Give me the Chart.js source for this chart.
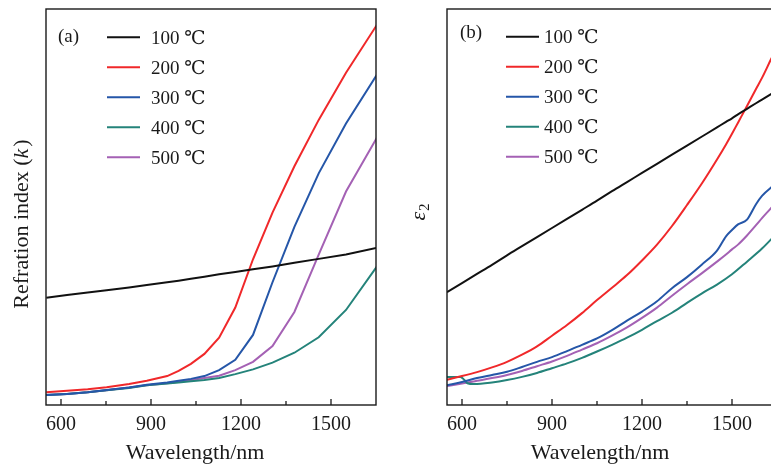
<!DOCTYPE html>
<html lang="en">
<head>
  <meta charset="UTF-8">
  <title>Refration index (k) and ε2 vs wavelength</title>
  <script src="https://cdn.jsdelivr.net/npm/chart.js@4.4.1/dist/chart.umd.min.js"></script>
  <style>
    html, body { margin: 0; padding: 0; background: #fff; overflow: hidden; }
    body { width: 771px; height: 467px; position: relative; }
    .panel { position: absolute; top: 0; height: 467px; }
    #panelA { left: 0; width: 390px; }
    #panelB { left: 390px; width: 400px; }
  </style>
</head>
<body>
  <div class="panel" id="panelA"><canvas id="chartA" width="390" height="467"></canvas></div>
  <div class="panel" id="panelB"><canvas id="chartB" width="400" height="467"></canvas></div>
  <script>
    // 1. Donnees (axe y sans graduation : echelle relative 0-100)
    var seriesLabels = ['100 ℃', '200 ℃', '300 ℃', '400 ℃', '500 ℃'];
    var seriesColors = ['#111111', '#f0282a', '#2556a8', '#24837a', '#a461b4'];
    var xTickLabels = [600, 900, 1200, 1500];
    var xMinorTicks = [750, 1050, 1350];

    // (a) k
    var waveA = [551, 620, 689, 752, 827, 886, 954, 992, 1033, 1078, 1127, 1181, 1240, 1305, 1378, 1459, 1550, 1653];
    var kA100 = [27.1, 27.8, 28.4, 29.0, 29.7, 30.3, 31.0, 31.4, 31.9, 32.4, 33.0, 33.6, 34.3, 35.0, 35.9, 36.9, 38.0, 39.7];
    var kA200 = [3.2, 3.6, 4.0, 4.5, 5.3, 6.1, 7.3, 8.6, 10.4, 12.9, 17.0, 24.6, 36.8, 48.6, 60.3, 72.0, 83.9, 96.0];
    var kA300 = [2.5, 2.8, 3.2, 3.8, 4.4, 5.1, 5.7, 6.1, 6.6, 7.3, 8.8, 11.4, 17.7, 31.0, 45.0, 58.5, 71.1, 83.4];
    var kA400 = [2.5, 2.8, 3.2, 3.7, 4.3, 5.0, 5.4, 5.7, 6.0, 6.3, 6.8, 7.8, 9.0, 10.7, 13.2, 17.1, 24.0, 35.0];
    var kA500 = [2.5, 2.8, 3.2, 3.7, 4.4, 5.0, 5.5, 5.9, 6.3, 6.8, 7.4, 8.8, 10.9, 14.9, 23.5, 38.0, 53.9, 67.5];

    // (b) epsilon 2
    var waveB = [550, 600, 650, 700, 750, 800, 850, 900, 950, 1000, 1050, 1100, 1150, 1200, 1250, 1300, 1350, 1400, 1450, 1480, 1500, 1520, 1550, 1580, 1600, 1630, 1650];
    var eB100 = [28.5, 30.8, 33.1, 35.4, 37.8, 40.1, 42.4, 44.7, 47.0, 49.3, 51.6, 54.0, 56.3, 58.6, 60.9, 63.2, 65.5, 67.8, 70.1, 71.5, 72.4, 73.4, 74.8, 76.2, 77.1, 78.5, 79.4];
    var eB200 = [6.4, 7.3, 8.3, 9.5, 10.9, 12.7, 14.8, 17.5, 20.2, 23.2, 26.5, 29.6, 32.8, 36.5, 40.5, 45.2, 50.5, 56.0, 62.0, 65.8, 68.5, 71.3, 75.5, 79.8, 82.6, 87.3, 90.3];
    var eB300 = [5.0, 5.8, 6.8, 7.6, 8.4, 9.6, 10.9, 12.1, 13.6, 15.2, 16.8, 18.9, 21.3, 23.6, 26.2, 29.5, 32.3, 35.5, 39.0, 42.6, 44.2, 45.6, 46.8, 50.7, 52.8, 54.9, 56.0];
    var eB500 = [4.8, 5.4, 6.1, 6.8, 7.6, 8.6, 9.8, 11.0, 12.4, 14.0, 15.6, 17.5, 19.6, 22.0, 24.6, 27.6, 30.5, 33.3, 36.2, 38.0, 39.3, 40.5, 42.8, 45.4, 47.2, 49.7, 51.4];
    var waveB400 = [550, 595, 608, 618, 640, 700, 750, 800, 850, 900, 950, 1000, 1050, 1100, 1150, 1200, 1250, 1300, 1350, 1400, 1450, 1500, 1550, 1600, 1650];
    var eB400 = [7.1, 7.1, 6.3, 5.5, 5.3, 5.7, 6.3, 7.1, 8.1, 9.3, 10.5, 11.9, 13.5, 15.2, 17.0, 19.0, 21.2, 23.3, 25.8, 28.2, 30.4, 33.0, 36.2, 39.5, 43.4];

    var SERIF = '"Liberation Serif", "DejaVu Serif", serif';
    var INK = '#1a1a1a';

    function pairs(xs, ys) {
      return xs.map(function(x, i) { return { x: x, y: ys[i] }; });
    }
    function makeSets(list, smooth) {
      return list.map(function(s, i) {
        return {
          label: seriesLabels[i], data: pairs(s[0], s[1]),
          borderColor: seriesColors[i], borderWidth: 2, pointRadius: 0,
          fill: false, cubicInterpolationMode: smooth ? 'monotone' : 'default', tension: 0
        };
      });
    }

    // 2. Decor : cadre, graduations internes, legende, titres
    var decoPlugin = {
      id: 'deco',
      afterDraw: function(chart) {
        var o = chart.options.plugins.deco;
        var ctx = chart.ctx, a = chart.chartArea, xs = chart.scales.x;
        ctx.save();
        ctx.strokeStyle = INK; ctx.lineWidth = 1.4;
        ctx.strokeRect(a.left, a.top, a.right - a.left, a.bottom - a.top);
        ctx.lineWidth = 1.3;
        ctx.beginPath();
        xTickLabels.forEach(function(v) { var x = xs.getPixelForValue(v); ctx.moveTo(x, a.bottom); ctx.lineTo(x, a.bottom - 6); });
        xMinorTicks.forEach(function(v) { var x = xs.getPixelForValue(v); ctx.moveTo(x, a.bottom); ctx.lineTo(x, a.bottom - 4); });
        ctx.stroke();

        ctx.fillStyle = INK;
        ctx.font = '19px ' + SERIF;
        ctx.textAlign = 'left'; ctx.textBaseline = 'alphabetic';
        ctx.fillText(o.tag, a.left + o.tagX, o.tagY);

        chart.data.datasets.forEach(function(ds, i) {
          var y = o.legY + 30 * i;
          ctx.strokeStyle = ds.borderColor; ctx.lineWidth = 2;
          ctx.beginPath(); ctx.moveTo(a.left + o.lineX0, y); ctx.lineTo(a.left + o.lineX1, y); ctx.stroke();
          ctx.fillStyle = INK;
          ctx.fillText(ds.label, a.left + o.textX, y + 6.5);
        });

        ctx.font = '22px ' + SERIF;
        ctx.textAlign = 'center';
        ctx.fillText('Wavelength/nm', (a.left + a.right) / 2 + o.xTitleShift, 459);

        ctx.translate(o.yTitleX, o.yTitleY);
        ctx.rotate(-Math.PI / 2);
        ctx.textAlign = 'left';
        if (o.yTitle === 'k') {
          var p1 = 'Refration index (', p3 = ')';
          ctx.font = '22px ' + SERIF; var w1 = ctx.measureText(p1).width, w3 = ctx.measureText(p3).width;
          ctx.font = 'italic 22px ' + SERIF; var w2 = ctx.measureText('k').width;
          var x0 = -(w1 + w2 + w3 + 2) / 2;
          ctx.font = '22px ' + SERIF; ctx.fillText(p1, x0, 0);
          ctx.font = 'italic 22px ' + SERIF; ctx.fillText('k', x0 + w1, 0);
          ctx.font = '22px ' + SERIF; ctx.fillText(p3, x0 + w1 + w2 + 2, 0);
        } else {
          ctx.font = 'italic 22px ' + SERIF; var we = ctx.measureText('ε').width;
          ctx.font = '15px ' + SERIF; var w2b = ctx.measureText('2').width;
          var xe = -(we + w2b + 1) / 2;
          ctx.font = 'italic 22px ' + SERIF; ctx.fillText('ε', xe, 0);
          ctx.font = '15px ' + SERIF; ctx.fillText('2', xe + we + 1, 4);
        }
        ctx.restore();
      }
    };

    function buildChart(id, datasets, deco, yWidth, padRight) {
      return new Chart(document.getElementById(id), {
        type: 'line',
        data: { datasets: datasets },
        plugins: [decoPlugin],
        options: {
          responsive: false, animation: false,
          layout: { padding: { top: 9, right: padRight, left: 0, bottom: 0 } },
          plugins: { legend: { display: false }, tooltip: { enabled: false }, deco: deco },
          scales: {
            x: {
              type: 'linear', min: 550, max: 1650,
              afterBuildTicks: function(s) { s.ticks = xTickLabels.map(function(v) { return { value: v }; }); },
              afterFit: function(s) { s.height = 62; },
              grid: { display: false, drawTicks: false }, border: { display: false },
              ticks: {
                color: INK, font: { family: SERIF, size: 20 }, padding: 8, maxRotation: 0, autoSkip: false,
                callback: function(v) { return String(v); }
              }
            },
            y: {
              min: 0, max: 100,
              afterFit: function(s) { s.width = yWidth; },
              grid: { display: false, drawTicks: false }, border: { display: false },
              ticks: { display: false }
            }
          }
        }
      });
    }

    buildChart('chartA', makeSets([
      [waveA, kA100], [waveA, kA200], [waveA, kA300], [waveA, kA400], [waveA, kA500]
    ], false), {
      tag: '(a)', tagX: 12, tagY: 41.6, legY: 37.3, lineX0: 61, lineX1: 94, textX: 105,
      xTitleShift: -16, yTitle: 'k', yTitleX: 27.5, yTitleY: 224
    }, 46, 14);

    buildChart('chartB', makeSets([
      [waveB, eB100], [waveB, eB200], [waveB, eB300], [waveB400, eB400], [waveB, eB500]
    ], true), {
      tag: '(b)', tagX: 13, tagY: 38.3, legY: 36.7, lineX0: 59, lineX1: 92, textX: 97,
      xTitleShift: -12, yTitle: 'e2', yTitleX: 35, yTitleY: 212
    }, 57, 13);
  </script>
</body>
</html>
